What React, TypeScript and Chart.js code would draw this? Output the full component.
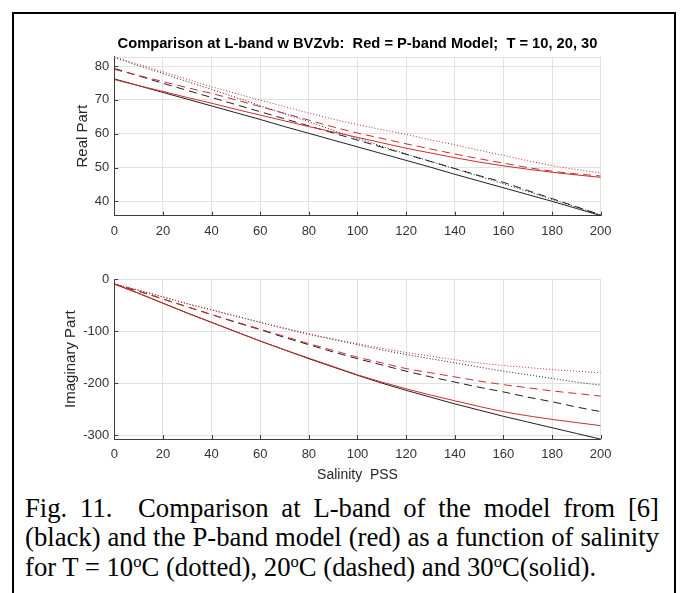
import React, { useEffect, useRef } from 'react';
import { Chart, registerables } from 'chart.js';

Chart.register(...registerables);

// ---------- data ----------
const salinity = [0, 10, 20, 30, 40, 50, 60, 70, 80, 90, 100, 110, 120, 130, 140, 150, 160, 170, 180, 190, 200];

// Real part (black = model [6], red = P-band model)
const realK10 = [82.5, 80.1, 77.8, 75.4, 73.1, 70.7, 68.3, 65.9, 63.5, 61.0, 58.6, 56.3, 54.0, 51.8, 49.6, 47.4, 45.2, 42.9, 40.6, 38.3, 36.0];
const realK20 = [79.3, 77.1, 74.9, 72.8, 70.7, 68.6, 66.5, 64.4, 62.3, 60.2, 58.1, 56.0, 53.9, 51.8, 49.7, 47.6, 45.6, 43.2, 40.8, 38.4, 36.0];
const realK30 = [76.2, 74.2, 72.2, 70.2, 68.2, 66.2, 64.2, 62.1, 60.1, 58.1, 56.1, 54.1, 52.1, 50.1, 48.0, 46.0, 44.0, 42.0, 40.0, 37.9, 35.8];
const realP10 = [82.7, 80.5, 78.3, 76.1, 73.9, 71.9, 69.9, 68.0, 66.1, 64.3, 62.7, 61.2, 59.8, 58.2, 56.7, 55.1, 53.6, 52.0, 50.6, 49.4, 48.4];
const realP20 = [79.0, 77.2, 75.4, 73.6, 71.9, 70.0, 68.0, 66.0, 64.0, 62.0, 60.2, 58.6, 57.0, 55.5, 54.0, 52.6, 51.3, 50.0, 48.9, 48.1, 47.5];
const realP30 = [76.0, 74.2, 72.5, 70.7, 69.0, 67.2, 65.5, 63.8, 62.1, 60.5, 58.9, 57.3, 55.7, 54.3, 52.9, 51.6, 50.5, 49.5, 48.6, 47.8, 47.1];

// Imaginary part
const imagK10 = [-9, -21, -34, -47, -59, -71, -83, -95, -106, -116, -126, -136, -145, -153, -161, -169, -177, -184, -191, -198, -204];
const imagK20 = [-9, -23, -38, -53, -68, -83, -97, -112, -126, -140, -153, -165, -177, -188, -198, -208, -217, -227, -236, -246, -255];
const imagK30 = [-9, -27, -46, -65, -83, -101, -119, -136, -153, -169, -185, -200, -214, -227, -240, -252, -264, -275, -286, -297, -308];
const imagP10 = [-9, -21, -34, -47, -59, -71, -83, -94, -105, -115, -124, -133, -141, -148, -155, -161, -166, -170, -174, -177, -180];
const imagP20 = [-9, -23, -38, -53, -68, -82, -96, -110, -124, -137, -150, -161, -172, -180, -188, -196, -203, -209, -215, -220, -225];
const imagP30 = [-9, -27, -46, -65, -83, -101, -119, -136, -152, -168, -184, -198, -211, -223, -234, -245, -255, -263, -270, -276, -282];

// tick labels
const xTicks = [0, 20, 40, 60, 80, 100, 120, 140, 160, 180, 200];
const realTicks = [40, 50, 60, 70, 80];
const imagTicks = [-300, -200, -100, 0];

const titleText = 'Comparison at L-band w BVZvb:  Red = P-band Model;  T = 10, 20, 30';
const realLabel = 'Real Part';
const imagLabel = 'Imaginary Part';
const xLabel = 'Salinity  PSS';

// ---------- style ----------
const FONT = "'Liberation Sans', Arial, Helvetica, sans-serif";
const RED = 'rgb(205,45,45)';
const BLACK = 'rgba(0,0,0,0.88)';
const DOT = [1, 2];
const DASH = [8, 5];
const GRID = '#e2e2e2';
const AXIS = '#3c3c3c';
const TICKTXT = '#333333';

const matlabTicks = {
  id: 'matlabTicks',
  beforeDatasetsDraw(chart: any) {
    const { ctx, chartArea: a } = chart;
    ctx.save();
    ctx.strokeStyle = GRID;
    ctx.lineWidth = 1;
    ctx.beginPath();
    const ty = Math.round(a.top) + 0.5;
    ctx.moveTo(a.left, ty);
    ctx.lineTo(a.right, ty);
    ctx.stroke();
    ctx.restore();
  },
  afterDraw(chart: any) {
    const { ctx, chartArea: a, scales } = chart;
    const x = scales.x;
    const y = scales.y;
    ctx.save();
    ctx.strokeStyle = AXIS;
    ctx.lineWidth = 1;
    ctx.beginPath();
    x.ticks.forEach((t: any) => {
      const px = Math.round(x.getPixelForValue(t.value)) + 0.5;
      ctx.moveTo(px, a.bottom);
      ctx.lineTo(px, a.bottom - 4);
    });
    y.ticks.forEach((t: any) => {
      const py = Math.round(y.getPixelForValue(t.value)) + 0.5;
      ctx.moveTo(a.left, py);
      ctx.lineTo(a.left + 4, py);
    });
    ctx.stroke();
    ctx.restore();
  },
};

type Series = { values: number[]; color: string; dash: number[] };

type PlotProps = {
  top: number;
  height: number;
  padTop: number;
  xAxisH: number;
  title?: string;
  yLabel: string;
  yLabelPad: number;
  yMin: number;
  yMax: number;
  yTicks: number[];
  series: Series[];
  showXLabel?: boolean;
};

function Plot(p: PlotProps) {
  const ref = useRef<HTMLCanvasElement>(null);
  useEffect(() => {
    if (!ref.current) return;
    const chart = new Chart(ref.current, {
      type: 'line',
      data: {
        datasets: p.series.map((s) => ({
          data: salinity.map((x, i) => ({ x, y: s.values[i] })),
          borderColor: s.color,
          borderDash: s.dash,
          borderWidth: 1,
          pointRadius: 0,
          fill: false,
          cubicInterpolationMode: 'monotone' as const,
        })),
      },
      options: {
        responsive: false,
        animation: false,
        devicePixelRatio: 1,
        layout: { padding: { left: 0, right: 79.3, top: p.padTop, bottom: 0 } },
        plugins: {
          legend: { display: false },
          tooltip: { enabled: false },
          title: p.title
            ? {
                display: true,
                text: p.title,
                fullSize: false,
                color: '#000',
                font: { family: FONT, size: 14.7, weight: 'bold', lineHeight: 1.2 },
                padding: { top: 35.6, bottom: 3.5 },
              }
            : { display: false },
        },
        scales: {
          x: {
            type: 'linear',
            min: 0,
            max: 200,
            afterFit: (s: any) => {
              s.height = p.xAxisH;
            },
            afterBuildTicks: (s: any) => {
              s.ticks = xTicks.map((v) => ({ value: v }));
            },
            ticks: {
              padding: 8,
              color: TICKTXT,
              font: { family: FONT, size: 13 },
              maxRotation: 0,
              autoSkip: false,
            },
            grid: { color: GRID, drawTicks: false },
            border: { color: AXIS, width: 1 },
            title: p.showXLabel
              ? {
                  display: true,
                  text: xLabel,
                  color: '#262626',
                  font: { family: FONT, size: 14, lineHeight: 1.2 },
                  padding: { top: 0, bottom: 6.8 },
                }
              : { display: false },
          },
          y: {
            type: 'linear',
            min: p.yMin,
            max: p.yMax,
            afterFit: (s: any) => {
              s.width = 114.3;
            },
            afterBuildTicks: (s: any) => {
              s.ticks = p.yTicks.map((v) => ({ value: v }));
            },
            ticks: {
              padding: 5,
              color: TICKTXT,
              font: { family: FONT, size: 13 },
              autoSkip: false,
            },
            grid: { color: GRID, drawTicks: false },
            border: { color: AXIS, width: 1 },
            title: {
              display: true,
              text: p.yLabel,
              color: '#262626',
              font: { family: FONT, size: 15, lineHeight: 1.2 },
              padding: { top: p.yLabelPad, bottom: 0 },
            },
          },
        },
      } as any,
      plugins: [matlabTicks],
    });
    return () => chart.destroy();
  }, []);
  return (
    <canvas
      ref={ref}
      width={680}
      height={p.height}
      style={{ position: 'absolute', left: 0, top: p.top, width: 680, height: p.height }}
    />
  );
}

const realSeries: Series[] = [
  { values: realP10, color: RED, dash: DOT },
  { values: realP20, color: RED, dash: DASH },
  { values: realP30, color: RED, dash: [] },
  { values: realK10, color: BLACK, dash: DOT },
  { values: realK20, color: BLACK, dash: DASH },
  { values: realK30, color: BLACK, dash: [] },
];

const imagSeries: Series[] = [
  { values: imagP10, color: RED, dash: DOT },
  { values: imagP20, color: RED, dash: DASH },
  { values: imagP30, color: RED, dash: [] },
  { values: imagK10, color: BLACK, dash: DOT },
  { values: imagK20, color: BLACK, dash: DASH },
  { values: imagK30, color: BLACK, dash: [] },
];

const capStyle: React.CSSProperties = {
  fontFamily: "'Liberation Serif', 'Times New Roman', Times, serif",
  fontSize: '26.7px',
  lineHeight: '29.35px',
  color: '#000',
  whiteSpace: 'nowrap',
};

const Deg = () => (
  <sup style={{ fontSize: '0.62em', lineHeight: 0, verticalAlign: '0.55em' }}>o</sup>
);

export default function App() {
  return (
    <div style={{ position: 'absolute', left: 0, top: 0, width: 680, height: 593, overflow: 'hidden', background: '#fff' }}>
      <div
        style={{
          position: 'absolute',
          left: 12,
          top: 12,
          width: 664,
          height: 581,
          border: '2px solid #000',
          borderBottom: 'none',
          boxSizing: 'border-box',
        }}
      />
      <Plot
        top={0}
        height={250}
        padTop={0}
        xAxisH={34.3}
        title={titleText}
        yLabel={realLabel}
        yLabelPad={73.6}
        yMin={35.75}
        yMax={82.75}
        yTicks={realTicks}
        series={realSeries}
      />
      <Plot
        top={250}
        height={240}
        padTop={29.3}
        xAxisH={51}
        yLabel={imagLabel}
        yLabelPad={62}
        yMin={-307.7}
        yMax={0}
        yTicks={imagTicks}
        series={imagSeries}
        showXLabel
      />
      <div style={{ position: 'absolute', left: 25, top: 494, width: 634 }}>
        <div style={{ ...capStyle, textAlign: 'justify', textAlignLast: 'justify', whiteSpace: 'normal' }}>
          Fig. 11.&nbsp; Comparison at L-band of the model from [6]
        </div>
        <div style={{ ...capStyle, textAlign: 'justify', textAlignLast: 'justify', whiteSpace: 'normal' }}>
          (black) and the P-band model (red) as a function of salinity
        </div>
        <div style={capStyle}>
          for T = 10<Deg />C (dotted), 20<Deg />C (dashed) and 30<Deg />C(solid).
        </div>
      </div>
    </div>
  );
}
